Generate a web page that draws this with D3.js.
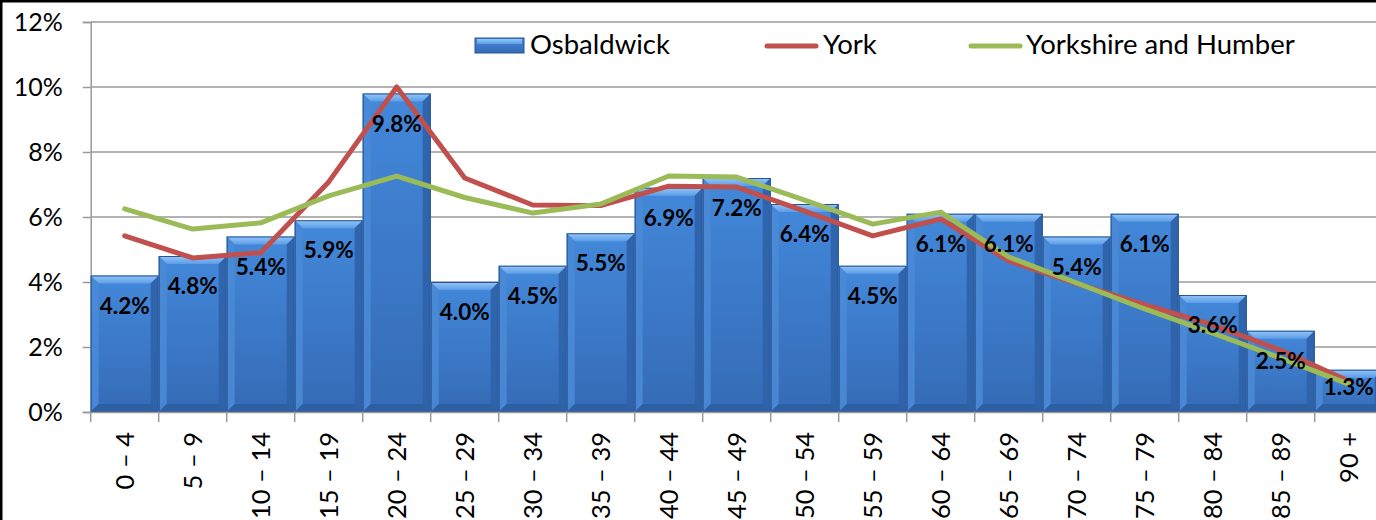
<!DOCTYPE html>
<html>
<head>
<meta charset="utf-8">
<script src="https://cdn.jsdelivr.net/npm/d3@7"></script>
<style>
html,body{margin:0;padding:0;background:#fff;overflow:hidden;}
svg{display:block;}
text{font-family:Lato,"Open Sans",sans-serif;}
</style>
</head>
<body>
<svg id="chart" width="1376" height="520"></svg>
<script>
const categories = ["0 – 4","5 – 9","10 – 14","15 – 19","20 – 24","25 – 29","30 – 34","35 – 39","40 – 44","45 – 49","50 – 54","55 – 59","60 – 64","65 – 69","70 – 74","75 – 79","80 – 84","85 – 89","90 +"];
const osbaldwick = [4.2,4.8,5.4,5.9,9.8,4.0,4.5,5.5,6.9,7.2,6.4,4.5,6.1,6.1,5.4,6.1,3.6,2.5,1.3];
const york = [5.42,4.74,4.9,7.08,10.0,7.2,6.37,6.35,6.95,6.92,6.18,5.42,5.94,4.65,3.95,3.3,2.68,1.9,0.95];
const yorkshire = [6.25,5.63,5.82,6.65,7.26,6.6,6.12,6.4,7.26,7.23,6.52,5.78,6.15,4.77,3.97,3.17,2.43,1.66,0.86];
const yTicks = [0,2,4,6,8,10,12];
const seriesNames = ["Osbaldwick","York","Yorkshire and Humber"];
const colors = {bar:"#3c7bcb", york:"#c0504d", yh:"#9bbb59"};

const svg = d3.select("#chart");
const left = 90.7, plotBottom = 412, plotTop = 22;
const x = d3.scaleBand().domain(categories).range([left, left + 19*68]).padding(0);
const y = d3.scaleLinear().domain([0,12]).range([plotBottom, plotTop]);

// defs
const defs = svg.append("defs");
const gFace = defs.append("linearGradient").attr("id","face").attr("x1",0).attr("y1",0).attr("x2",0).attr("y2",1);
gFace.append("stop").attr("offset","0%").attr("stop-color","#4388da");
gFace.append("stop").attr("offset","100%").attr("stop-color","#356bb6");
const gTop = defs.append("linearGradient").attr("id","topb").attr("x1",0).attr("y1",0).attr("x2",0).attr("y2",1);
gTop.append("stop").attr("offset","0%").attr("stop-color","#95c6f7");
gTop.append("stop").attr("offset","100%").attr("stop-color","#5c9de7");

// outer border
svg.append("rect").attr("x",1).attr("y",1).attr("width",1500).attr("height",700)
  .attr("fill","none").attr("stroke","#000").attr("stroke-width",3);

// gridlines
svg.append("g").selectAll("line").data(yTicks).join("line")
  .attr("x1",left).attr("x2",1400).attr("y1",d=>y(d)).attr("y2",d=>y(d))
  .attr("stroke","#9a9a9a").attr("stroke-width",1.5);

// y axis
const yAxis = d3.axisLeft(y).tickValues(yTicks).tickFormat(d=>d+"%").tickSize(8).tickPadding(20);
const ya = svg.append("g").attr("transform",`translate(${left},0)`).call(yAxis);
ya.select(".domain").attr("stroke","#9a9a9a").attr("stroke-width",1.5);
ya.selectAll(".tick line").attr("stroke","#9a9a9a").attr("stroke-width",1.5);
ya.selectAll(".tick text").attr("font-size",25).attr("fill","#000").attr("font-family","Lato");

// bars
const bv = 8;
const bars = svg.append("g").selectAll("g").data(osbaldwick).join("g");
bars.each(function(v,i){
  const g = d3.select(this);
  const x0 = x(categories[i]), w = x.bandwidth(), y0 = y(v), h = y(0)-y(v);
  g.append("rect").attr("x",x0).attr("y",y0).attr("width",w).attr("height",h).attr("fill","url(#face)");
  g.append("path").attr("d",`M${x0},${y0}L${x0+w},${y0}L${x0+w-bv},${y0+bv}L${x0+bv},${y0+bv}Z`).attr("fill","url(#topb)");
  g.append("path").attr("d",`M${x0},${y0}L${x0+bv},${y0+bv}L${x0+bv},${y0+h-bv}L${x0},${y0+h}Z`).attr("fill","#4a8ad6").attr("opacity",0.9);
  g.append("path").attr("d",`M${x0+w},${y0}L${x0+w-bv},${y0+bv}L${x0+w-bv},${y0+h-bv}L${x0+w},${y0+h}Z`).attr("fill","#2f62a8").attr("opacity",0.9);
  g.append("path").attr("d",`M${x0},${y0+h}L${x0+bv},${y0+h-bv}L${x0+w-bv},${y0+h-bv}L${x0+w},${y0+h}Z`).attr("fill","#2d5fa3");
  g.append("rect").attr("x",x0+0.5).attr("y",y0+0.5).attr("width",w-1).attr("height",h-1)
    .attr("fill","none").attr("stroke","#285591").attr("stroke-width",1);
});

// x axis
const xAxis = d3.axisBottom(x).tickSize(0).tickFormat("");
const xa = svg.append("g").attr("transform",`translate(0,${plotBottom})`).call(xAxis);
xa.select(".domain").attr("stroke","#9a9a9a").attr("stroke-width",1.5);
svg.append("g").selectAll("line").data(d3.range(20)).join("line")
  .attr("x1",d=>left+d*x.bandwidth()).attr("x2",d=>left+d*x.bandwidth())
  .attr("y1",plotBottom).attr("y2",plotBottom+10).attr("stroke","#9a9a9a").attr("stroke-width",1.5);
svg.append("g").selectAll("text").data(categories).join("text")
  .attr("transform",d=>`translate(${x(d)+x.bandwidth()/2},432) rotate(-90)`)
  .attr("text-anchor","end").attr("dy","0.35em").attr("font-size",25.5).attr("fill","#000")
  .text(d=>d);

// lines
const line = d3.line().x((d,i)=>x(categories[i])+x.bandwidth()/2).y(d=>y(d));
svg.append("path").datum(york).attr("d",line).attr("fill","none").attr("stroke",colors.york)
  .attr("stroke-width",5).attr("stroke-linejoin","round").attr("stroke-linecap","round");
svg.append("path").datum(yorkshire).attr("d",line).attr("fill","none").attr("stroke",colors.yh)
  .attr("stroke-width",5).attr("stroke-linejoin","round").attr("stroke-linecap","round");

// data labels
svg.append("g").selectAll("text").data(osbaldwick).join("text")
  .attr("x",(d,i)=>x(categories[i])+x.bandwidth()/2)
  .attr("y",d=>Math.min(y(d)+30, y(0)-25))
  .attr("dy","0.36em").attr("text-anchor","middle").attr("font-size",22.5).attr("font-weight","bold")
  .attr("fill","#000").text(d=>d.toFixed(1)+"%");

// legend
const lg = svg.append("g");
const sw = lg.append("g");
sw.append("rect").attr("x",475).attr("y",38).attr("width",49).attr("height",15).attr("fill","url(#face)").attr("stroke","#285591");
sw.append("rect").attr("x",477).attr("y",39).attr("width",45).attr("height",5).attr("fill","url(#topb)");
lg.append("text").attr("x",530).attr("y",54).attr("font-size",27.5).attr("fill","#000").text(seriesNames[0]);
lg.append("line").attr("x1",767).attr("x2",816).attr("y1",46).attr("y2",46).attr("stroke",colors.york).attr("stroke-width",5).attr("stroke-linecap","round");
lg.append("text").attr("x",823).attr("y",54).attr("font-size",27.5).attr("fill","#000").text(seriesNames[1]);
lg.append("line").attr("x1",971).attr("x2",1020).attr("y1",46).attr("y2",46).attr("stroke",colors.yh).attr("stroke-width",5).attr("stroke-linecap","round");
lg.append("text").attr("x",1026).attr("y",54).attr("font-size",27.5).attr("fill","#000").text(seriesNames[2]);
</script>
</body>
</html>
